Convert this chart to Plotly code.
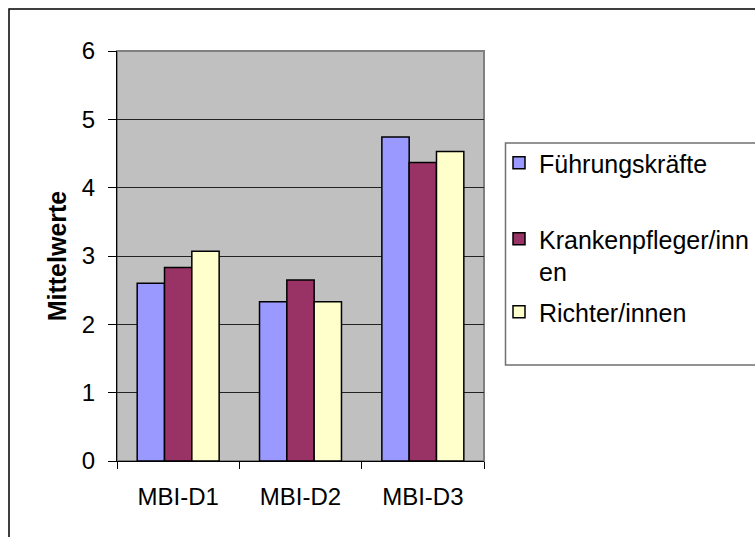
import plotly.graph_objects as go

categories = ["MBI-D1", "MBI-D2", "MBI-D3"]
series_names = ["Führungskräfte", "Krankenpfleger/inn<br>en", "Richter/innen"]
fuehrung = [2.60, 2.33, 4.74]
kranken = [2.83, 2.65, 4.37]
richter = [3.07, 2.33, 4.53]
colors = ["#9999FF", "#993366", "#FFFFCC"]
y_ticks = [0, 1, 2, 3, 4, 5, 6]

W, H = 755, 537
L, R, T, B = 117, 484, 51, 461
pw, ph = R - L, B - T

def px_x(x):
    return (x - L) / pw

def px_y(y):
    return (B - y) / ph

FONT = "Liberation Sans, Arial, sans-serif"
TICK_SIZE = 24
LEG_SIZE = 25
fig = go.Figure()
legend_ids = ["legend", "legend2", "legend3"]
for name, vals, col, lid in zip(series_names, [fuehrung, kranken, richter], colors, legend_ids):
    fig.add_trace(go.Bar(
        x=categories, y=vals, name=name,
        marker=dict(color=col, line=dict(color="black", width=1.5)),
        legend=lid,
    ))

legend_common = dict(
    font=dict(family=FONT, size=LEG_SIZE, color="black"),
    bgcolor="rgba(0,0,0,0)", borderwidth=0,
    xanchor="left", yanchor="middle", valign="top",
    x=px_x(499),
)
fig.update_layout(
    width=W, height=H,
    margin=dict(l=L, r=W - R, t=T, b=H - B, autoexpand=False),
    paper_bgcolor="white", plot_bgcolor="#C0C0C0",
    barmode="group", bargap=0.33, bargroupgap=0,
    font=dict(family=FONT, size=TICK_SIZE, color="black"),
    showlegend=True,
    legend=dict(legend_common, y=px_y(163)),
    legend2=dict(legend_common, y=px_y(255)),
    legend3=dict(legend_common, y=px_y(312)),
    xaxis=dict(
        showline=True, linecolor="black", linewidth=1,
        ticks="outside", tickson="boundaries", ticklen=7, tickcolor="black",
        ticklabelstandoff=14,
        tickfont=dict(family=FONT, size=TICK_SIZE, color="black"),
    ),
    yaxis=dict(
        range=[0, 6], tickvals=y_ticks, ticktext=[str(v) for v in y_ticks],
        showline=True, linecolor="black", linewidth=1,
        ticks="outside", ticklen=8, tickcolor="black",
        ticklabelstandoff=8,
        showgrid=True, gridcolor="#222222", gridwidth=1,
        zeroline=False,
        tickfont=dict(family=FONT, size=TICK_SIZE, color="black"),
        title=dict(text="<b>Mittelwerte</b>", standoff=8,
                   font=dict(family=FONT, size=LEG_SIZE, color="black")),
    ),
    shapes=[
        dict(type="rect", xref="paper", yref="paper", x0=0, x1=1, y0=0, y1=1,
             line=dict(color="#808080", width=2), layer="below"),
        dict(type="rect", xref="paper", yref="paper",
             x0=px_x(9), x1=px_x(900), y0=px_y(700), y1=px_y(9),
             line=dict(color="black", width=1.5)),
        dict(type="rect", xref="paper", yref="paper",
             x0=px_x(505.5), x1=px_x(900), y0=px_y(365), y1=px_y(143),
             line=dict(color="#707070", width=1.5)),
    ],
)

fig.write_html("out.html", config={"displayModeBar": False},
               post_script="document.body.style.margin='0';")
